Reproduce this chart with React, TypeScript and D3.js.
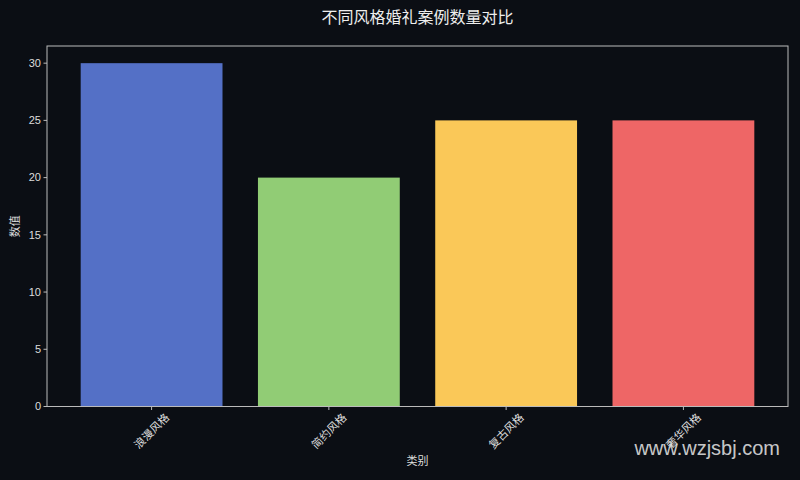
import React from "react";
import * as d3 from "d3";

const categories = ["浪漫风格", "简约风格", "复古风格", "奢华风格"];
const values = [30, 20, 25, 25];
const colors = ["#5470c6", "#91cc75", "#fac858", "#ee6666"];
const yTicks = [0, 5, 10, 15, 20, 25, 30];

const W = 800;
const H = 480;
const M = { left: 47, right: 788, top: 46, bottom: 406.5 };
const FONT = "'Liberation Sans', Arial, 'Noto Sans CJK SC', sans-serif";
const BG = "#0b0e14";
const TXT = "#dddddd";

export default function App() {
  const n = categories.length;
  const x = d3.scaleLinear().domain([-0.59, n - 1 + 0.59]).range([M.left, M.right]);
  const y = d3.scaleLinear().domain([0, 31.5]).range([M.bottom, M.top]);
  const bw = 0.8;

  return (
    <svg
      width={W}
      height={H}
      style={{ position: "absolute", left: 0, top: 0, display: "block" }}
      fontFamily={FONT}
    >
      <rect x={0} y={0} width={W} height={H} fill={BG} />
      <text x={(M.left + M.right) / 2} y={23} textAnchor="middle" fill="#eeeeee" fontSize={16}>
        不同风格婚礼案例数量对比
      </text>
      {values.map((v, i) => (
        <rect
          key={i}
          x={x(i - bw / 2)}
          y={y(v)}
          width={x(i + bw / 2) - x(i - bw / 2)}
          height={y(0) - y(v)}
          fill={colors[i]}
        />
      ))}
      <rect
        x={M.left}
        y={M.top}
        width={M.right - M.left}
        height={M.bottom - M.top}
        fill="none"
        stroke="#bbbbbb"
        strokeWidth={1}
      />
      {yTicks.map((t) => (
        <g key={t}>
          <line x1={M.left - 3.5} x2={M.left} y1={y(t)} y2={y(t)} stroke="#bbbbbb" />
          <text x={M.left - 6} y={y(t)} dy="0.35em" textAnchor="end" fill={TXT} fontSize={11}>
            {t}
          </text>
        </g>
      ))}
      {categories.map((c, i) => (
        <g key={c}>
          <line x1={x(i)} x2={x(i)} y1={M.bottom} y2={M.bottom + 3.5} stroke="#bbbbbb" />
          <text
            transform={`translate(${x(i)},${431}) rotate(-45)`}
            textAnchor="middle"
            dominantBaseline="central"
            fill={TXT}
            fontSize={11}
          >
            {c}
          </text>
        </g>
      ))}
      <text x={(M.left + M.right) / 2} y={465} textAnchor="middle" fill={TXT} fontSize={11}>
        类别
      </text>
      <text
        transform={`translate(19,${(M.top + M.bottom) / 2}) rotate(-90)`}
        textAnchor="middle"
        fill={TXT}
        fontSize={11}
      >
        数值
      </text>
      <text x={780} y={455} textAnchor="end" fill="#e0e0e0" fillOpacity={0.9} fontSize={20}>
        www.wzjsbj.com
      </text>
    </svg>
  );
}
